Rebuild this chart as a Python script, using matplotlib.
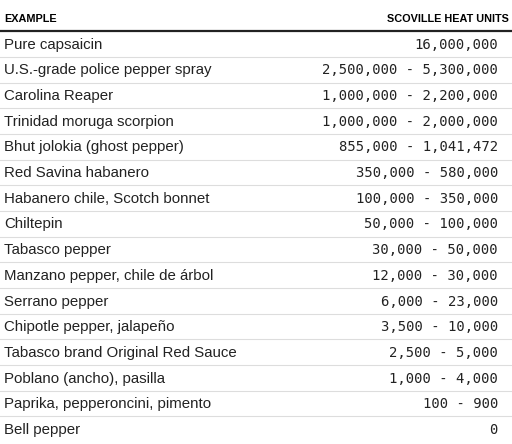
import matplotlib
matplotlib.use("Agg")
import matplotlib.pyplot as plt

examples = ["Pure capsaicin", "U.S.-grade police pepper spray", "Carolina Reaper",
            "Trinidad moruga scorpion", "Bhut jolokia (ghost pepper)", "Red Savina habanero",
            "Habanero chile, Scotch bonnet", "Chiltepin", "Tabasco pepper",
            "Manzano pepper, chile de árbol", "Serrano pepper", "Chipotle pepper, jalapeño",
            "Tabasco brand Original Red Sauce", "Poblano (ancho), pasilla",
            "Paprika, pepperoncini, pimento", "Bell pepper"]
shu = ["16,000,000", "2,500,000 - 5,300,000", "1,000,000 - 2,200,000",
       "1,000,000 - 2,000,000", "855,000 - 1,041,472", "350,000 - 580,000",
       "100,000 - 350,000", "50,000 - 100,000", "30,000 - 50,000",
       "12,000 - 30,000", "6,000 - 23,000", "3,500 - 10,000",
       "2,500 - 5,000", "1,000 - 4,000", "100 - 900", "0"]
headers = ["EXAMPLE", "SCOVILLE HEAT UNITS"]

fig = plt.figure(figsize=(5.12, 4.44), dpi=100)
ax = fig.add_axes([0, 0, 1, 1])
ax.set_xlim(0, 512)
ax.set_ylim(444, 0)
ax.axis("off")

ax.text(4, 19, headers[0], fontsize=7.8, fontweight="bold", va="center", ha="left", family="Liberation Sans")
ax.text(509, 19, headers[1], fontsize=7.8, fontweight="bold", va="center", ha="right", family="Liberation Sans")
ax.plot([0, 512], [31, 31], color="#222222", lw=1.6)

rh = 25.67
for i, (e, s) in enumerate(zip(examples, shu)):
    y = 44.8 + i * rh
    ax.text(4, y, e, fontsize=10.8, va="center", ha="left", family="Liberation Sans", color="#222222")
    ax.text(498, y, s, fontsize=10, va="center", ha="right",
            family="DejaVu Sans Mono", color="#222222")
    if i < len(examples) - 1:
        ax.plot([0, 512], [y - 0.8 + rh / 2, y - 0.8 + rh / 2], color="#dddddd", lw=0.8)

fig.savefig("out.png", dpi=100)
